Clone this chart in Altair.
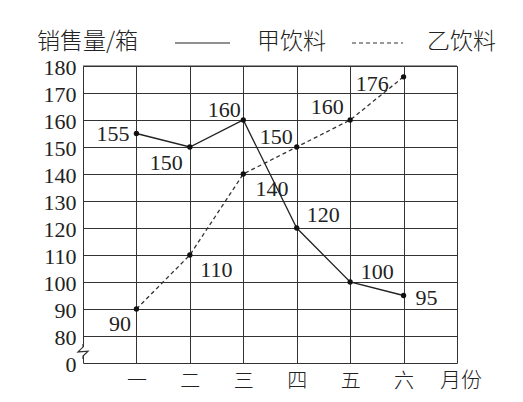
import altair as alt
import pandas as pd

# ---- data ----
months = ["一", "二", "三", "四", "五", "六"]
month_idx = [1, 2, 3, 4, 5, 6]
jia = [155, 150, 160, 120, 100, 95]      # 甲饮料 (solid)
yi = [90, 110, 140, 150, 160, 176]       # 乙饮料 (dashed)
y_ticks = [70, 80, 90, 100, 110, 120, 130, 140, 150, 160, 170, 180]
x_ticks = [0, 1, 2, 3, 4, 5, 6, 7]

# ---- label placement (pixel offsets, style only) ----
jia_dx = [-23.5, -23.5, -19, 26.5, 27, 23]
jia_dy = [0, 15.5, -10, -13, -10.5, 2]
yi_dx = [-16.5, 26.5, 28.6, -20.5, -23, -31.4]
yi_dy = [15, 15, 14.5, -10.5, -13, 6.7]

df_jia = pd.DataFrame({"m": month_idx, "v": jia, "s": "甲饮料"})
df_yi = pd.DataFrame({"m": month_idx, "v": yi, "s": "乙饮料"})

W, H = 374, 297
SERIF = "Liberation Serif"
CJK = "Noto Sans CJK SC"
INK = "#222222"

label_arr = "[" + ",".join(["''"] + [f"'{m}'" for m in months] + ["''"]) + "]"

xscale = alt.Scale(domain=[0, 7], nice=False, zero=False)
yscale = alt.Scale(domain=[70, 180], nice=False, zero=False)

xaxis = alt.Axis(values=x_ticks, grid=True, gridColor="#333333", gridWidth=1, gridOpacity=1,
                 domain=False, ticks=False, title=None, labelOverlap=False,
                 labelExpr=f"{label_arr}[datum.value]", labelFont=CJK, labelFontSize=20,
                 labelColor=INK, labelBaseline="middle", labelPadding=18, labelFontWeight=300)
yaxis = alt.Axis(values=y_ticks, grid=True, gridColor="#333333", gridWidth=1, gridOpacity=1,
                 domain=False, ticks=False, title=None, labelOverlap=False,
                 labelExpr="datum.value == 70 ? '0' : datum.label", labelFont=SERIF,
                 labelFontSize=22, labelColor=INK, labelPadding=7, labelBaseline="middle",
                 labelOffset=1, labelBound=False, labelFlush=False)


def X(f):
    return alt.X(f, scale=xscale, axis=xaxis)


def Y(f):
    return alt.Y(f, scale=yscale, axis=yaxis)


base_jia = alt.Chart(df_jia).encode(x=X("m:Q"), y=Y("v:Q"))
base_yi = alt.Chart(df_yi).encode(x=X("m:Q"), y=Y("v:Q"))

line_jia = base_jia.mark_line(color=INK, strokeWidth=1.3)
line_yi = base_yi.mark_line(color="#333333", strokeWidth=1.3, strokeDash=[4, 3])
pts_jia = base_jia.mark_point(filled=True, color="#111111", size=28, opacity=1)
pts_yi = base_yi.mark_point(filled=True, color="#111111", size=28, opacity=1)

labels = []
for i in range(6):
    labels.append(
        base_jia.transform_filter(alt.datum.m == month_idx[i])
        .mark_text(font=SERIF, fontSize=22, color=INK, align="center", baseline="middle",
                   dx=jia_dx[i], dy=jia_dy[i])
        .encode(text="v:Q")
    )
    labels.append(
        base_yi.transform_filter(alt.datum.m == month_idx[i])
        .mark_text(font=SERIF, fontSize=22, color=INK, align="center", baseline="middle",
                   dx=yi_dx[i], dy=yi_dy[i])
        .encode(text="v:Q")
    )

# top border (grid line at the domain maximum)
top = alt.Chart(pd.DataFrame({"m": [0], "b": [7], "v": [180]})).mark_rule(
    color="#333333", strokeWidth=1).encode(x=X("m:Q"), x2="b:Q", y=Y("v:Q"))

# axis break zigzag
brk = pd.DataFrame({"m": [0, 0, -0.094, 0.094, 0, 0], "v": [77, 75.9, 74.1, 74.4, 72.6, 71.5],
                    "o": [0, 1, 2, 3, 4, 5]})
brk_bg = alt.Chart(pd.DataFrame({"m": [0], "v": [75.9], "b2": [72.6]})).mark_rule(
    color="white", strokeWidth=3).encode(x=X("m:Q"), y=Y("v:Q"), y2="b2:Q")
brk_line = alt.Chart(brk).mark_line(color="#333333", strokeWidth=1.2, clip=False).encode(
    x=X("m:Q"), y=Y("v:Q"), order="o:Q")

one = pd.DataFrame({"k": [0]})


def txt(s, x, y, font, size, align="left"):
    return alt.Chart(pd.DataFrame({"t": [s]})).mark_text(
        font=font, fontSize=size, color=INK, align=align, baseline="middle", fontWeight=300
    ).encode(x=alt.value(x), y=alt.value(y), text="t:N")


legend_unit = txt("销售量/箱", -46, -24, CJK, 23)
legend_jia = txt("甲饮料", 174, -24, CJK, 23)
legend_yi = txt("乙饮料", 344, -24, CJK, 23)
month_title = txt("月份", 357, 315, CJK, 21)
rule_jia = alt.Chart(one).mark_rule(color=INK, strokeWidth=1.2).encode(
    x=alt.value(92), x2=alt.value(147), y=alt.value(-23))
rule_yi = alt.Chart(one).mark_rule(color="#333333", strokeWidth=1.2, strokeDash=[4, 3]).encode(
    x=alt.value(269), x2=alt.value(320), y=alt.value(-23))

chart = alt.layer(
    line_jia, top, line_yi, brk_bg, brk_line, pts_jia, pts_yi, *labels,
    legend_unit, legend_jia, legend_yi, month_title, rule_jia, rule_yi,
).properties(
    width=W, height=H,
    autosize=alt.AutoSizeParams(type="none"),
    padding={"left": 75, "top": 58, "right": 58, "bottom": 31},
    background="white",
).configure_view(stroke=None).configure_axis(labelOverlap=False)

chart.save("out.html", embed_options={"renderer": "svg", "actions": False})
